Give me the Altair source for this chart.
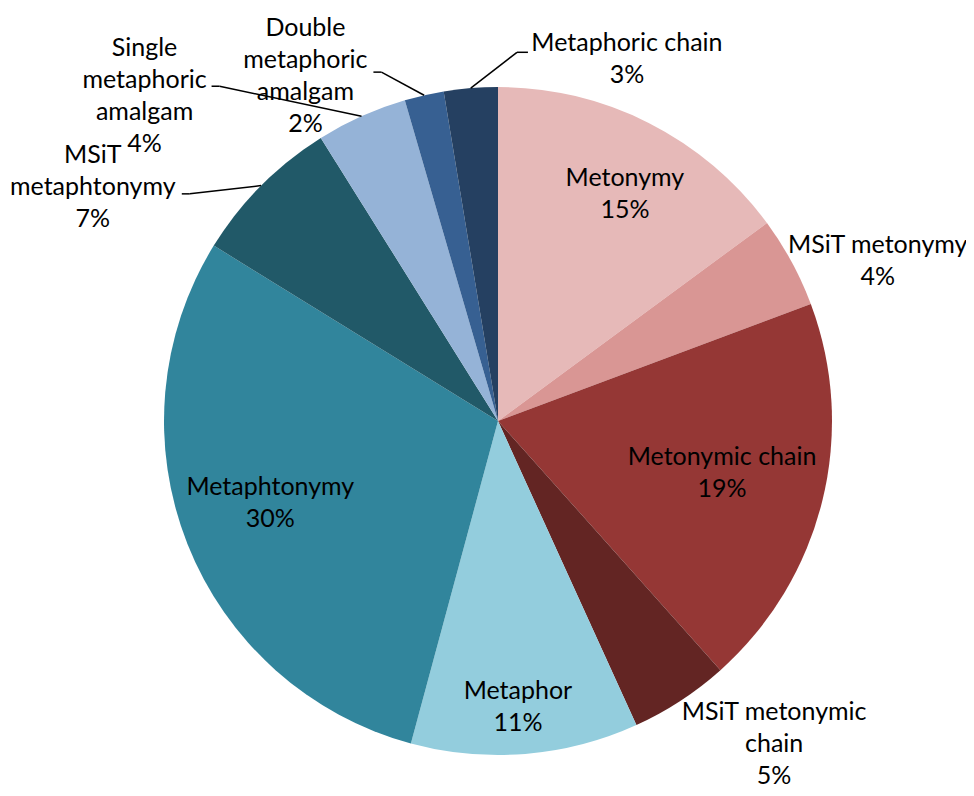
import altair as alt
import pandas as pd

# ---- data (clockwise from 12 o'clock) ----
categories = [
    "Metonymy", "MSiT metonymy", "Metonymic chain", "MSiT metonymic chain",
    "Metaphor", "Metaphtonymy", "MSiT metaphtonymy",
    "Single metaphoric amalgam", "Double metaphoric amalgam", "Metaphoric chain",
]
shares = [14.9, 4.4, 19.1, 4.8, 11.0, 29.6, 7.3, 4.4, 1.9, 2.6]
pct_labels = ["15%", "4%", "19%", "5%", "11%", "30%", "7%", "4%", "2%", "3%"]
label_text = [
    "Metonymy", "MSiT metonymy", "Metonymic chain", "MSiT metonymic\nchain",
    "Metaphor", "Metaphtonymy", "MSiT\nmetaphtonymy",
    "Single\nmetaphoric\namalgam", "Double\nmetaphoric\namalgam", "Metaphoric chain",
]
colors = ["#E6B9B8", "#D99694", "#953735", "#632523", "#93CDDD",
          "#31859C", "#215968", "#95B3D7", "#376092", "#254061"]

# ---- label layout (polar placement relative to slice mid-angle) ----
label_radius = [260, 412, 230, 425, 287, 242, 468, 480, 395, 384]
label_shift = [2.4, 5.6, -0.8, -7.4, 0.7, 1.8, -14.8, -23.3, -16.4, 24.3]
has_leader = [False, False, False, False, False, False, True, True, True, True]
leader_dx = [0, 0, 0, 0, 0, 0, 89, 67, 68, -99]
leader_dy = [0, 0, 0, 0, 0, 0, 7, -10, -4, -7]
leader_elbow = [0, 0, 0, 0, 0, 0, 8, 8, 8, -11]

CX, CY, R = 490, 413, 334
LINE_H = 32

labels_full = [t + "\n" + p for t, p in zip(label_text, pct_labels)]
df = pd.DataFrame({
    "idx": list(range(len(categories))),
    "category": categories,
    "share": shares,
    "label": labels_full,
    "nlines": [s.count("\n") + 1 for s in labels_full],
    "lr": label_radius,
    "lshift": label_shift,
    "leader": has_leader,
    "ldx": leader_dx,
    "ldy": leader_dy,
    "elbow": leader_elbow,
})

base = alt.Chart(df)

pie = base.mark_arc(outerRadius=R).encode(
    theta=alt.Theta("share:Q", stack=True),
    color=alt.Color("category:N", scale=alt.Scale(domain=categories, range=colors), legend=None),
    order=alt.Order("idx:Q"),
    x=alt.value(CX),
    y=alt.value(CY),
)

geo = base.transform_window(
    cum="sum(share)", sort=[alt.SortField("idx")], frame=[None, 0]
).transform_joinaggregate(
    total="sum(share)"
).transform_calculate(
    mid="(datum.cum - datum.share/2) / datum.total * 2 * PI"
).transform_calculate(
    la="datum.mid + datum.lshift * PI / 180"
).transform_calculate(
    lx=f"{CX} + datum.lr * sin(datum.la)",
    ly=f"{CY} - datum.lr * cos(datum.la)",
    ex=f"{CX} + {R} * sin(datum.mid)",
    ey=f"{CY} - {R} * cos(datum.mid)",
).transform_calculate(
    ty=f"datum.ly - (datum.nlines - 1) * {LINE_H} / 2",
    p2x="datum.lx + datum.ldx",
    p2y="datum.ly + datum.ldy",
).transform_calculate(
    p1x="datum.p2x + datum.elbow",
    p1y="datum.p2y",
)

labels = geo.mark_text(
    font="Lato", fontSize=25, lineHeight=LINE_H, lineBreak="\n",
    align="center", baseline="middle", color="black",
).encode(
    x=alt.X("lx:Q", scale=None, axis=None),
    y=alt.Y("ty:Q", scale=None, axis=None),
    text="label:N",
)

seg1 = geo.transform_filter("datum.leader").mark_rule(color="black", strokeWidth=1.5).encode(
    x=alt.X("ex:Q", scale=None), y=alt.Y("ey:Q", scale=None),
    x2="p1x:Q", y2="p1y:Q",
)
seg2 = geo.transform_filter("datum.leader").mark_rule(color="black", strokeWidth=1.5).encode(
    x=alt.X("p1x:Q", scale=None), y=alt.Y("p1y:Q", scale=None),
    x2="p2x:Q", y2="p2y:Q",
)

chart = alt.layer(pie, seg1, seg2, labels).properties(
    width=958, height=780,
    autosize=alt.AutoSizeParams(type="none"),
    padding=0,
).configure_view(stroke=None)

chart.save("out.html", embed_options={"renderer": "svg", "actions": False})
